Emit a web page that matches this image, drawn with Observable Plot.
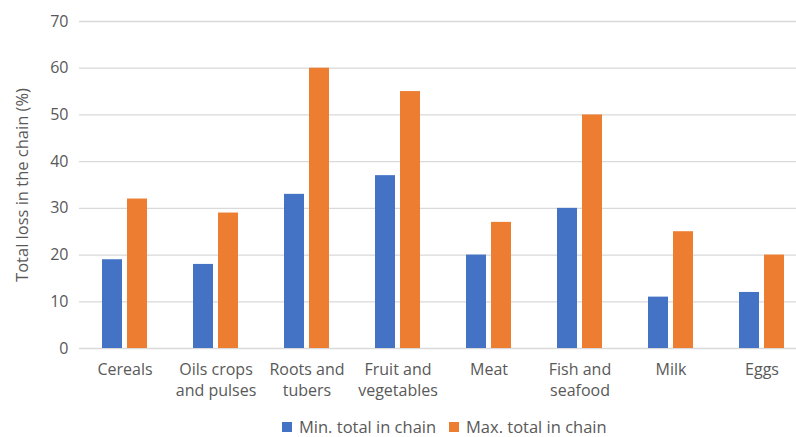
<!DOCTYPE html>
<html>
<head>
<meta charset="utf-8">
<script src="https://cdn.jsdelivr.net/npm/d3@7"></script>
<script src="https://cdn.jsdelivr.net/npm/@observablehq/plot@0.6"></script>
<style>
  body { margin: 0; background: #fff; font-family: "Open Sans", sans-serif; }
  #chart svg { display: block; }
  .legend { position: relative; height: 32px; width: 796px; }
  .legend .item { position: absolute; top: 10px; display: flex; align-items: center; font-size: 16.5px; color: #595959; }
  .legend .sw { width: 10px; height: 10px; margin-right: 7px; }
</style>
</head>
<body>
<div id="chart"></div>
<div class="legend" id="legend"></div>
<script>
const categories = ["Cereals", "Oils crops\nand pulses", "Roots and\ntubers", "Fruit and\nvegetables", "Meat", "Fish and\nseafood", "Milk", "Eggs"];
const minTotal = [19, 18, 33, 37, 20, 30, 11, 12];
const maxTotal = [32, 29, 60, 55, 27, 50, 25, 20];
const seriesNames = ["Min. total in chain", "Max. total in chain"];
const seriesColors = ["#4472C4", "#ED7D31"];
const yTicks = [0, 10, 20, 30, 40, 50, 60, 70];
const yLabel = "Total loss in the chain (%)";

const minRows = categories.map((c, i) => ({category: c, series: seriesNames[0], value: minTotal[i]}));
const maxRows = categories.map((c, i) => ({category: c, series: seriesNames[1], value: maxTotal[i]}));

const chart = Plot.plot({
  width: 796,
  height: 405,
  marginLeft: 79,
  marginRight: 0,
  marginTop: 21,
  marginBottom: 57,
  style: {fontFamily: "Open Sans, sans-serif", background: "#fff"},
  x: {type: "band", domain: categories, range: [79, 79 + 8 * 91], padding: 0},
  y: {domain: [0, 70]},
  marks: [
    Plot.ruleY(yTicks, {stroke: "#d9d9d9", strokeWidth: 1.3}),
    Plot.barY(minRows, {x: "category", y: "value", fill: seriesColors[0], insetLeft: 23, insetRight: 48}),
    Plot.barY(maxRows, {x: "category", y: "value", fill: seriesColors[1], insetLeft: 48, insetRight: 23}),
    Plot.axisY(yTicks, {tickSize: 0, tickPadding: 11, fontSize: 16, color: "#595959", label: null}),
    Plot.axisX({tickSize: 0, tickPadding: 12, fontSize: 16, lineHeight: 1.31, color: "#595959", label: null}),
    Plot.text([yLabel], {frameAnchor: "left", textAnchor: "middle", lineAnchor: "middle", rotate: -90, dx: -57, fontSize: 16.5, fill: "#595959"})
  ]
});
document.getElementById("chart").append(chart);

const legend = document.getElementById("legend");
const lefts = [282, 449];
seriesNames.forEach((name, i) => {
  const item = document.createElement("div");
  item.className = "item";
  item.style.left = lefts[i] + "px";
  const sw = document.createElement("span");
  sw.className = "sw";
  sw.style.background = seriesColors[i];
  const label = document.createElement("span");
  label.textContent = name;
  item.append(sw, label);
  legend.append(item);
});
</script>
</body>
</html>
